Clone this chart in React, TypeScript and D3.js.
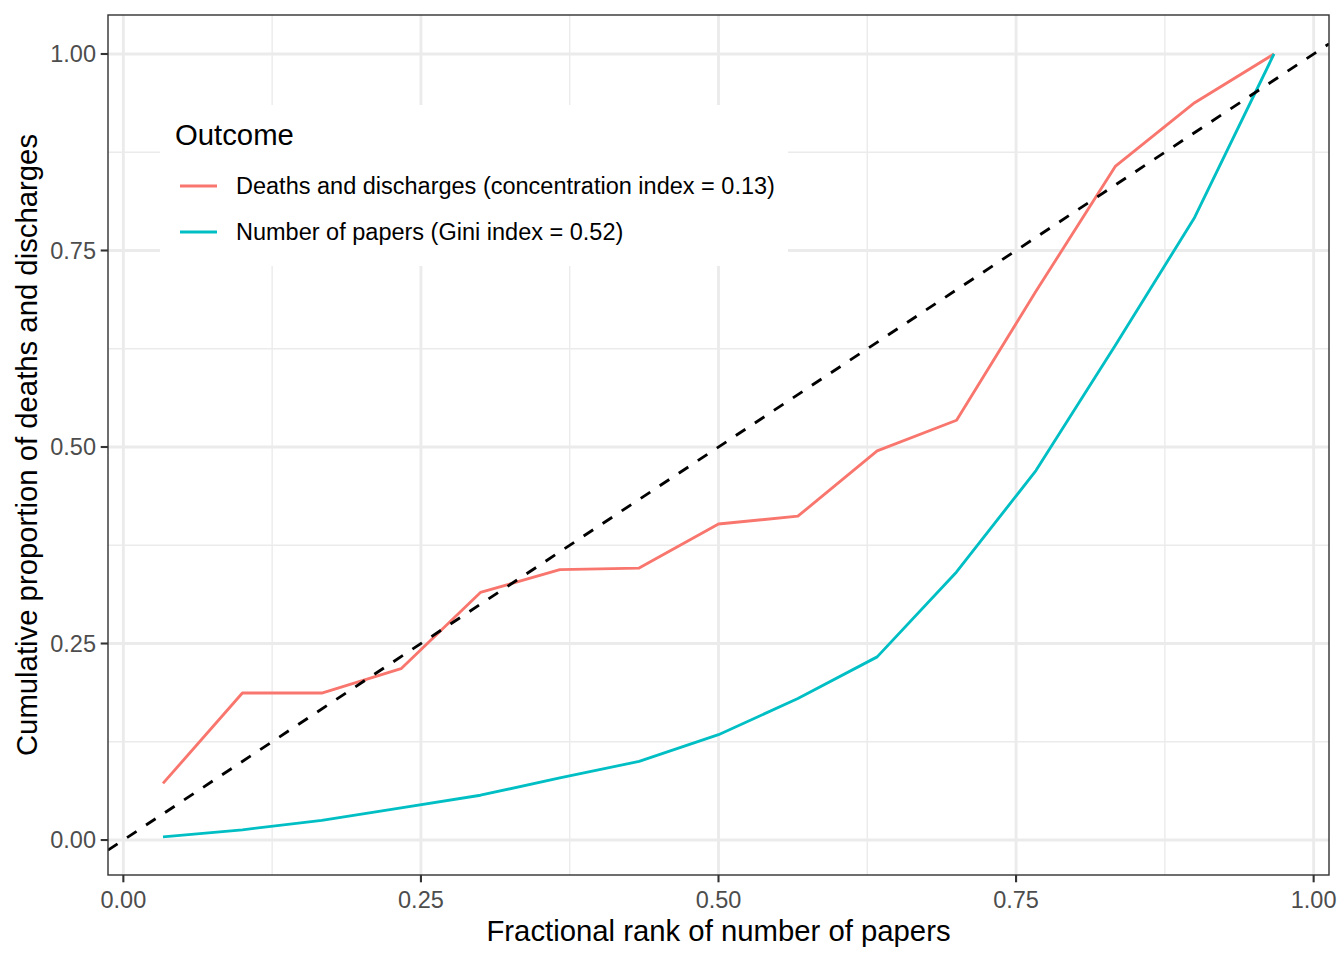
import React from "react";
import * as d3 from "d3";

const rank = [0.0333, 0.1, 0.1667, 0.2333, 0.3, 0.3667, 0.4333, 0.5, 0.5667, 0.6333, 0.7, 0.7667, 0.8333, 0.9, 0.9667];
const deaths = [0.072, 0.187, 0.187, 0.218, 0.315, 0.344, 0.346, 0.402, 0.412, 0.495, 0.534, 0.698, 0.857, 0.938, 1.0];
const papers = [0.004, 0.013, 0.025, 0.041, 0.057, 0.079, 0.1, 0.134, 0.18, 0.233, 0.341, 0.47, 0.629, 0.792, 1.0];
const tickValues = [0, 0.25, 0.5, 0.75, 1];
const tickLabels = ["0.00", "0.25", "0.50", "0.75", "1.00"];
const minorValues = [0.125, 0.375, 0.625, 0.875];
const seriesNames = [
  "Deaths and discharges (concentration index = 0.13)",
  "Number of papers (Gini index = 0.52)",
];
const seriesColors = ["#F8766D", "#00BFC4"];
const legendTitle = "Outcome";
const xTitle = "Fractional rank of number of papers";
const yTitle = "Cumulative proportion of deaths and discharges";

const W = 1344, H = 960;
const PL = 108, PR = 1329, PT = 15, PB = 875;
const FONT = "'Liberation Sans', Arial, Helvetica, sans-serif";

export default function App() {
  const x = d3.scaleLinear().domain([-0.0129, 1.0129]).range([PL, PR]);
  const y = d3.scaleLinear().domain([-0.0445, 1.0496]).range([PB, PT]);
  const line = d3.line<number>().x((_, i) => x(rank[i])).y((v) => y(v));
  const series = [deaths, papers];
  const xd = x.domain();

  return (
    <svg width={W} height={H} style={{ position: "absolute", left: 0, top: 0, background: "#fff" }} fontFamily={FONT}>
      <defs>
        <clipPath id="panel">
          <rect x={PL} y={PT} width={PR - PL} height={PB - PT} />
        </clipPath>
      </defs>
      <rect x={0} y={0} width={W} height={H} fill="#fff" />
      {/* minor grid */}
      {minorValues.map((v) => (
        <g key={"m" + v}>
          <line x1={x(v)} x2={x(v)} y1={PT} y2={PB} stroke="#EBEBEB" strokeWidth={1.42} />
          <line x1={PL} x2={PR} y1={y(v)} y2={y(v)} stroke="#EBEBEB" strokeWidth={1.42} />
        </g>
      ))}
      {/* major grid */}
      {tickValues.map((v) => (
        <g key={"M" + v}>
          <line x1={x(v)} x2={x(v)} y1={PT} y2={PB} stroke="#EBEBEB" strokeWidth={2.84} />
          <line x1={PL} x2={PR} y1={y(v)} y2={y(v)} stroke="#EBEBEB" strokeWidth={2.84} />
        </g>
      ))}
      <g clipPath="url(#panel)">
        {series.map((s, k) => (
          <path key={k} d={line(s) || ""} fill="none" stroke={seriesColors[k]} strokeWidth={2.85} strokeLinejoin="round" />
        ))}
        <line x1={x(xd[0])} y1={y(xd[0])} x2={x(xd[1])} y2={y(xd[1])} stroke="#000" strokeWidth={2.85} strokeDasharray="11.4 11.4" />
      </g>
      {/* legend */}
      <g>
        <rect x={160} y={105} width={628} height={161} fill="#fff" />
        <text x={175} y={145} fontSize={29.3} fill="#000">{legendTitle}</text>
        {seriesNames.map((n, k) => (
          <g key={n} transform={`translate(0, ${186 + k * 46})`}>
            <line x1={180} x2={217} y1={0} y2={0} stroke={seriesColors[k]} strokeWidth={2.85} />
            <text x={236} y={8.4} fontSize={23.5} fill="#000">{n}</text>
          </g>
        ))}
      </g>
      {/* border */}
      <rect x={PL} y={PT} width={PR - PL} height={PB - PT} fill="none" stroke="#333333" strokeWidth={1.42} />
      {/* x axis */}
      {tickValues.map((v, i) => (
        <g key={"xt" + v}>
          <line x1={x(v)} x2={x(v)} y1={PB} y2={PB + 7.3} stroke="#333333" strokeWidth={2.1} />
          <text x={x(v)} y={908} textAnchor="middle" fontSize={23.5} fill="#4D4D4D">{tickLabels[i]}</text>
        </g>
      ))}
      {/* y axis */}
      {tickValues.map((v, i) => (
        <g key={"yt" + v}>
          <line x1={PL - 7.3} x2={PL} y1={y(v)} y2={y(v)} stroke="#333333" strokeWidth={2.1} />
          <text x={96} y={y(v) + 8.4} textAnchor="end" fontSize={23.5} fill="#4D4D4D">{tickLabels[i]}</text>
        </g>
      ))}
      <text x={(PL + PR) / 2} y={941} textAnchor="middle" fontSize={29.3} fill="#000">{xTitle}</text>
      <text transform={`translate(37, ${(PT + PB) / 2}) rotate(-90)`} textAnchor="middle" fontSize={29.3} fill="#000">{yTitle}</text>
    </svg>
  );
}
